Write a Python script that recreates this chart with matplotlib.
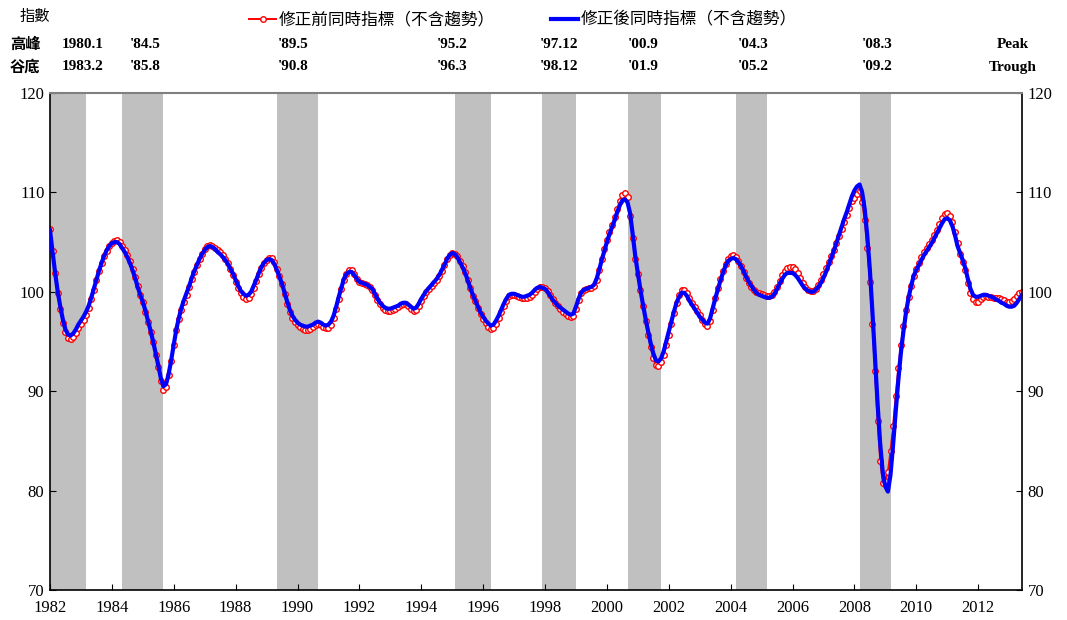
import numpy as np
import matplotlib
matplotlib.use("Agg")
import matplotlib.pyplot as plt

plt.rcParams['font.family'] = ['Liberation Serif', 'Noto Sans CJK TC']

# 修正前同時指標（不含趨勢），1982.1 起每月一筆
before = [
    [106.3, 104.1, 101.9, 99.9, 98.3, 96.9, 96.0, 95.4, 95.3, 95.5, 95.9, 96.4],   # 1982
    [96.8, 97.2, 97.7, 98.4, 99.3, 100.2, 101.2, 102.1, 102.9, 103.6, 104.1, 104.6],
    [104.9, 105.1, 105.2, 105.0, 104.6, 104.2, 103.7, 103.1, 102.3, 101.5, 100.6, 99.7],
    [99.0, 98.0, 97.0, 96.0, 94.9, 93.6, 92.4, 91.0, 90.1, 90.4, 91.6, 93.0],
    [94.6, 96.2, 97.3, 98.2, 99.0, 99.7, 100.5, 101.3, 102.0, 102.7, 103.3, 103.8],
    [104.3, 104.6, 104.7, 104.6, 104.4, 104.2, 104.0, 103.7, 103.3, 102.9, 102.3, 101.7],
    [101.0, 100.4, 99.9, 99.5, 99.3, 99.4, 99.8, 100.4, 101.1, 101.8, 102.4, 102.9],
    [103.2, 103.4, 103.4, 103.0, 102.3, 101.6, 100.8, 99.8, 98.8, 98.0, 97.4, 97.0],
    [96.7, 96.5, 96.3, 96.2, 96.2, 96.3, 96.5, 96.7, 96.8, 96.7, 96.5, 96.4],      # 1990
    [96.4, 96.7, 97.4, 98.3, 99.3, 100.3, 101.2, 101.8, 102.2, 102.2, 101.8, 101.3],
    [101.0, 100.9, 100.8, 100.7, 100.5, 100.2, 99.7, 99.2, 98.8, 98.4, 98.2, 98.1],
    [98.1, 98.2, 98.3, 98.5, 98.7, 98.8, 98.8, 98.6, 98.3, 98.1, 98.2, 98.6],
    [99.1, 99.6, 100.0, 100.3, 100.6, 100.9, 101.2, 101.6, 102.1, 102.7, 103.3, 103.7],
    [103.9, 103.8, 103.6, 103.1, 102.6, 102.0, 101.2, 100.4, 99.6, 99.1, 98.4, 97.8],
    [97.3, 96.9, 96.5, 96.3, 96.4, 96.8, 97.4, 98.0, 98.6, 99.1, 99.6, 99.7],
    [99.7, 99.6, 99.5, 99.4, 99.4, 99.4, 99.5, 99.7, 100.0, 100.3, 100.5, 100.5],
    [100.4, 100.1, 99.7, 99.3, 98.9, 98.6, 98.3, 98.0, 97.8, 97.6, 97.5, 97.6],
    [98.3, 99.2, 99.9, 100.2, 100.3, 100.4, 100.4, 100.6, 101.2, 102.2, 103.3, 104.3],
    [105.2, 106.0, 106.7, 107.5, 108.3, 109.1, 109.7, 109.9, 109.5, 107.6, 105.4, 103.3],  # 2000
    [101.8, 100.2, 98.6, 97.1, 95.7, 94.4, 93.3, 92.6, 92.5, 92.9, 93.6, 94.6],
    [95.7, 96.8, 97.9, 98.9, 99.7, 100.2, 100.2, 99.9, 99.4, 98.9, 98.5, 98.1],
    [97.7, 97.2, 96.8, 96.6, 97.1, 98.2, 99.4, 100.4, 101.3, 102.1, 102.8, 103.3],
    [103.6, 103.7, 103.5, 103.1, 102.6, 102.0, 101.4, 100.9, 100.5, 100.2, 100.0, 99.9],
    [99.8, 99.7, 99.6, 99.6, 99.7, 100.0, 100.5, 101.1, 101.7, 102.1, 102.4, 102.5],
    [102.5, 102.3, 101.9, 101.4, 100.9, 100.5, 100.2, 100.1, 100.1, 100.3, 100.7, 101.2],
    [101.8, 102.4, 103.0, 103.6, 104.2, 104.9, 105.6, 106.3, 107.0, 107.7, 108.4, 109.1],
    [109.4, 109.8, 110.1, 109.0, 107.2, 104.4, 101.0, 96.8, 92.0, 87.0, 83.0, 80.8],
    [81.0, 81.9, 84.0, 86.5, 89.5, 92.3, 94.6, 96.6, 98.2, 99.5, 100.6, 101.6],
    [102.3, 102.9, 103.5, 104.0, 104.4, 104.8, 105.2, 105.7, 106.2, 106.8, 107.4, 107.8],  # 2010
    [107.9, 107.6, 107.0, 106.0, 104.9, 103.8, 103.0, 102.2, 100.9, 99.9, 99.3, 99.0],
    [99.0, 99.3, 99.5, 99.6, 99.5, 99.5, 99.4, 99.4, 99.4, 99.3, 99.2, 99.0],
    [99.0, 99.1, 99.3, 99.6, 99.9, 100.0],
]

# 修正後同時指標（不含趨勢）
after = [
    [106.2, 104.0, 101.9, 100.0, 98.5, 97.2, 96.2, 95.7, 95.6, 95.8, 96.2, 96.7],   # 1982
    [97.1, 97.5, 98.0, 98.6, 99.4, 100.3, 101.2, 102.1, 102.9, 103.6, 104.2, 104.6],
    [104.9, 105.0, 105.0, 104.8, 104.4, 104.0, 103.5, 102.9, 102.2, 101.4, 100.5, 99.7],
    [99.0, 98.1, 97.1, 96.1, 95.0, 93.8, 92.6, 91.3, 90.5, 90.7, 91.7, 93.1],
    [94.7, 96.2, 97.4, 98.4, 99.2, 99.9, 100.6, 101.4, 102.1, 102.7, 103.3, 103.8],
    [104.2, 104.5, 104.6, 104.5, 104.3, 104.0, 103.8, 103.5, 103.2, 102.8, 102.3, 101.8],
    [101.2, 100.6, 100.1, 99.8, 99.6, 99.7, 100.0, 100.6, 101.2, 101.9, 102.5, 102.9],
    [103.2, 103.3, 103.2, 102.8, 102.2, 101.5, 100.8, 99.9, 99.0, 98.2, 97.6, 97.2],
    [96.9, 96.7, 96.6, 96.5, 96.5, 96.6, 96.7, 96.9, 97.0, 96.9, 96.7, 96.6],      # 1990
    [96.7, 97.0, 97.6, 98.5, 99.5, 100.4, 101.3, 101.8, 102.0, 102.0, 101.7, 101.3],
    [101.0, 100.9, 100.8, 100.7, 100.5, 100.3, 99.8, 99.3, 98.9, 98.6, 98.4, 98.3],
    [98.3, 98.4, 98.5, 98.6, 98.8, 98.9, 98.9, 98.7, 98.5, 98.3, 98.4, 98.8],
    [99.3, 99.7, 100.1, 100.4, 100.7, 101.0, 101.3, 101.7, 102.2, 102.7, 103.3, 103.7],
    [103.9, 103.8, 103.5, 103.0, 102.5, 101.9, 101.2, 100.4, 99.7, 99.1, 98.5, 97.9],
    [97.5, 97.1, 96.8, 96.6, 96.7, 97.1, 97.6, 98.2, 98.8, 99.3, 99.7, 99.8],
    [99.8, 99.7, 99.6, 99.5, 99.5, 99.6, 99.7, 99.9, 100.2, 100.4, 100.5, 100.4],
    [100.3, 100.0, 99.6, 99.2, 98.9, 98.6, 98.4, 98.2, 98.0, 97.8, 97.7, 97.8],
    [98.5, 99.3, 99.9, 100.2, 100.3, 100.4, 100.5, 100.7, 101.3, 102.2, 103.2, 104.1],
    [105.0, 105.8, 106.5, 107.2, 108.0, 108.7, 109.2, 109.3, 109.0, 107.9, 105.8, 103.6],  # 2000
    [101.9, 100.2, 98.7, 97.3, 96.0, 94.8, 93.8, 93.1, 93.0, 93.3, 94.0, 95.0],
    [96.0, 97.0, 98.0, 98.9, 99.5, 99.9, 99.9, 99.6, 99.1, 98.7, 98.3, 97.9],
    [97.5, 97.2, 96.9, 96.8, 97.3, 98.3, 99.3, 100.2, 101.1, 101.9, 102.6, 103.1],
    [103.3, 103.4, 103.3, 103.0, 102.6, 102.1, 101.5, 101.0, 100.6, 100.2, 99.9, 99.7],
    [99.6, 99.5, 99.4, 99.4, 99.5, 99.8, 100.3, 100.8, 101.3, 101.7, 101.9, 101.9],
    [101.9, 101.7, 101.4, 101.0, 100.6, 100.3, 100.1, 100.0, 100.0, 100.2, 100.5, 100.9],
    [101.4, 102.0, 102.7, 103.4, 104.1, 104.9, 105.7, 106.5, 107.3, 108.0, 108.8, 109.6],
    [110.2, 110.6, 110.8, 110.0, 108.3, 105.6, 102.2, 97.9, 93.2, 88.7, 84.7, 81.8],
    [80.4, 79.9, 81.6, 84.6, 87.9, 91.0, 93.8, 96.0, 97.9, 99.4, 100.6, 101.6],
    [102.2, 102.7, 103.2, 103.7, 104.1, 104.5, 104.9, 105.4, 105.9, 106.4, 106.9, 107.3],  # 2010
    [107.4, 107.2, 106.6, 105.7, 104.6, 103.9, 103.2, 102.4, 101.3, 100.3, 99.7, 99.5],
    [99.5, 99.6, 99.7, 99.7, 99.6, 99.5, 99.4, 99.2, 99.1, 98.9, 98.8, 98.6],
    [98.5, 98.5, 98.6, 98.9, 99.3, 99.7],
]

# 景氣循環高峰、谷底（年, 月）
peaks = [(1980, 1), (1984, 5), (1989, 5), (1995, 2), (1997, 12), (2000, 9), (2004, 3), (2008, 3)]
troughs = [(1983, 2), (1985, 8), (1990, 8), (1996, 3), (1998, 12), (2001, 9), (2005, 2), (2009, 2)]
peak_labels = ["1980.1", "'84.5", "'89.5", "'95.2", "'97.12", "'00.9", "'04.3", "'08.3"]
trough_labels = ["1983.2", "'85.8", "'90.8", "'96.3", "'98.12", "'01.9", "'05.2", "'09.2"]
label_x = [62, 130, 278, 437, 540, 628, 738, 862]

y_before = np.concatenate([np.array(r) for r in before])
y_after = np.concatenate([np.array(r) for r in after])
t = 1982 + np.arange(len(y_before)) / 12.0

W, H = 1067, 620
fig = plt.figure(figsize=(W / 100, H / 100), dpi=100)
ax = fig.add_axes([50 / W, 1 - 590 / H, 972 / W, 497 / H])

t0, t1 = t[0], t[-1]
for (py, pm), (ty, tm) in zip(peaks, troughs):
    a = max(py + (pm - 1) / 12.0, t0)
    b = ty + tm / 12.0
    ax.axvspan(a, b, color='#C0C0C0', lw=0, zorder=0)

ax.plot(t, y_before, color='red', lw=1.4, marker='o', ms=4.0, mfc='white',
        mec='red', mew=1.0, zorder=2, label='修正前同時指標（不含趨勢）')
ax.plot(t, y_after, color='blue', lw=3.0, zorder=3, label='修正後同時指標（不含趨勢）')

ax.set_xlim(t0, t1)
ax.set_ylim(70, 120)
ax.set_xticks(np.arange(1982, 2013, 2))
ax.set_xticklabels([str(y) for y in range(1982, 2013, 2)])
ax.set_yticks([70, 80, 90, 100, 110, 120])
ax.tick_params(direction='in', length=4, labelsize=12, pad=4,
               right=True, labelright=True)
ax.tick_params(axis='x', pad=7)
ax.spines['top'].set_color('#808080')
ax.spines['top'].set_linewidth(1.5)
for s in ['left', 'right', 'bottom']:
    ax.spines[s].set_linewidth(1.2)

fig.legend(loc='upper center', bbox_to_anchor=(0.49, 1.005), ncol=2, frameon=False,
           prop={'family': ['Noto Sans CJK TC'], 'size': 12},
           handlelength=1.6, handletextpad=0.15, columnspacing=3.4)

bold = dict(fontsize=11, fontweight='bold', va='center')
fig.text(20 / W, 1 - 17 / H, '指數', family=['Noto Sans CJK TC'], fontsize=11, va='center')
fig.text(10 / W, 1 - 44 / H, '高峰', family=['Noto Sans CJK TC'], **bold)
fig.text(10 / W, 1 - 67 / H, '谷底', family=['Noto Sans CJK TC'], **bold)
for x, pl, tl in zip(label_x, peak_labels, trough_labels):
    fig.text(x / W, 1 - 44 / H, pl, **bold)
    fig.text(x / W, 1 - 67 / H, tl, **bold)
fig.text(1013 / W, 1 - 44 / H, 'Peak', ha='center', **bold)
fig.text(1013 / W, 1 - 67 / H, 'Trough', ha='center', **bold)

fig.savefig('out.png', dpi=100)
